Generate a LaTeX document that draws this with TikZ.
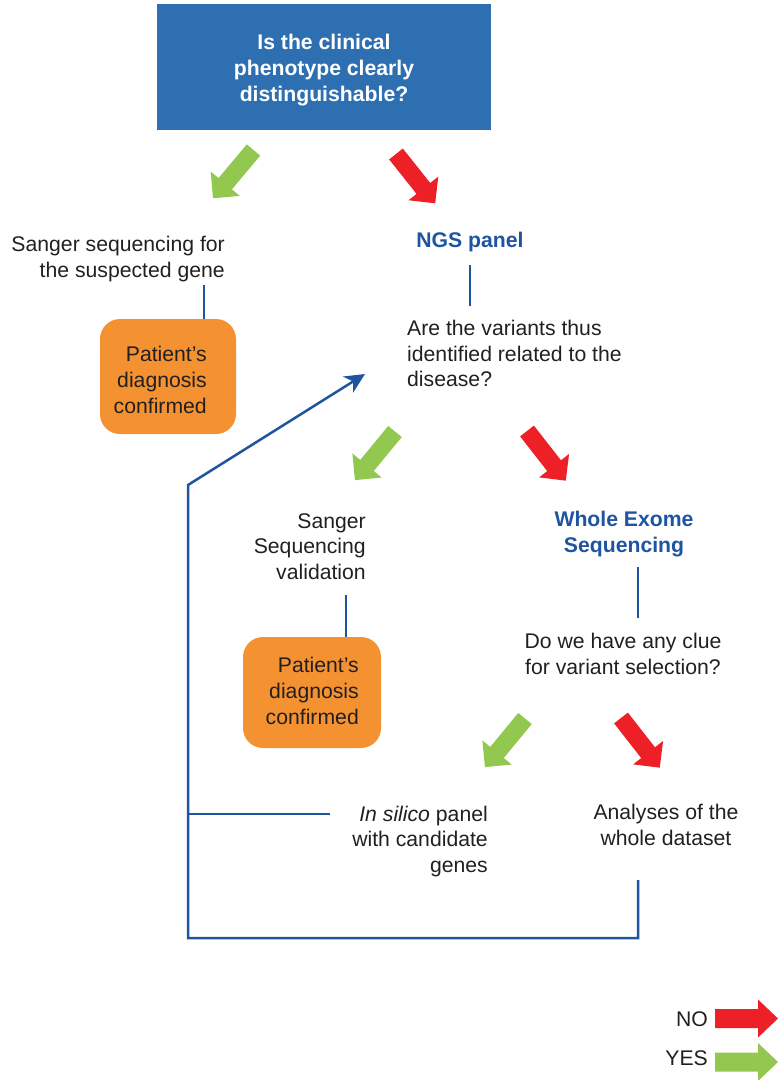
\documentclass[tikz,border=0pt]{standalone}
\usepackage{fontspec}
\setmainfont{Liberation Sans}
\usetikzlibrary{arrows.meta}
\definecolor{titleblue}{RGB}{45,111,176}
\definecolor{yesgreen}{RGB}{146,200,80}
\definecolor{nored}{RGB}{237,32,39}
\definecolor{boxorange}{RGB}{244,146,50}
\definecolor{lineblue}{RGB}{30,84,160}
\definecolor{darktext}{RGB}{35,31,32}
\begin{document}
\begin{tikzpicture}[x=1pt,y=-1pt,
  txt/.style={inner sep=0pt, text=darktext, font=\fontsize{21.2}{25.8}\selectfont},
  bluetxt/.style={inner sep=0pt, text=lineblue, font=\fontsize{21.2}{25.8}\selectfont\bfseries},
  confbox/.style={fill=boxorange, rounded corners=20pt, inner sep=0pt},
  conn/.style={draw=lineblue, line width=2.5pt, line join=miter},
  diagarrow/.pic={\fill (0,-8.75) -- (44,-8.75) -- (44,-19) -- (63,0) -- (44,19) -- (44,8.75) -- (0,8.75) -- cycle;},
  legarrow/.pic={\fill (0,-9.5) -- (43,-9.5) -- (43,-19) -- (63,0) -- (43,19) -- (43,9.5) -- (0,9.5) -- cycle;}
]
\useasboundingbox (0,0) rectangle (784,1080);

% title question
\node[fill=titleblue, minimum width=334pt, minimum height=126pt, inner sep=0pt] (q1) at (324,67) {};
\node[inner sep=0pt, text=white, align=center, font=\fontsize{21.2}{26}\selectfont\bfseries]
      (q1txt) at (324,70.5) {Is the clinical\\phenotype clearly\\distinguishable?};

% first level arrows
\pic[fill=yesgreen, rotate=230] at (253.5,150) {diagarrow};
\pic[fill=nored, rotate=308.5] at (396,154) {diagarrow};

% left branch
\node[txt, align=right, anchor=east] (sanger1) at (225,259) {Sanger sequencing for\\the suspected gene};
\node[confbox, minimum width=136pt, minimum height=115pt] (conf1) at (168,376.5) {};
\node[txt, align=right, anchor=east] (conf1txt) at (207,380) {Patient’s\\diagnosis\\confirmed};
\coordinate (l1top) at (204,285);
\draw[conn] (l1top) -- (l1top |- conf1.north);

% NGS panel
\node[bluetxt] (ngs) at (470,242.5) {NGS panel};
\node[txt, align=left, anchor=west] (q2) at (407,353.5) {Are the variants thus\\identified related to the\\disease?};
\coordinate (l2top) at (470,265);
\coordinate (l2bot) at (470,306);
\draw[conn] (l2top) -- (l2bot);

% second level arrows
\pic[fill=yesgreen, rotate=230.5] at (395,431.5) {diagarrow};
\pic[fill=nored, rotate=308] at (527,431) {diagarrow};

% middle branch
\node[txt, align=right, anchor=east] (sanger2) at (366,546.5) {Sanger\\Sequencing\\validation};
\node[confbox, minimum width=138pt, minimum height=111pt] (conf2) at (312,692.5) {};
\node[txt, align=right, anchor=east] (conf2txt) at (359,691) {Patient’s\\diagnosis\\confirmed};
\coordinate (l3top) at (346,595);
\draw[conn] (l3top) -- (l3top |- conf2.north);

% WES
\node[bluetxt, align=center] (wes) at (624,534) {Whole Exome\\Sequencing};
\node[txt, align=center] (q3) at (623,654) {Do we have any clue\\for variant selection?};
\coordinate (l4top) at (638,567);
\coordinate (l4bot) at (638,618);
\draw[conn] (l4top) -- (l4bot);

% third level arrows
\pic[fill=yesgreen, rotate=230.5] at (525,718.5) {diagarrow};
\pic[fill=nored, rotate=308] at (621,718) {diagarrow};

\node[txt, align=right, anchor=east] (insilico) at (488,841.5) {\textit{In silico} panel\\with candidate\\genes};
\node[txt, align=center] (whole) at (666,825) {Analyses of the\\whole dataset};

% feedback loop
\coordinate (fbstart) at (638,880);
\coordinate (fbcorner) at (188,938);
\coordinate (fbknee) at (188,485);
\coordinate (fbtip) at (365,374);
\coordinate (isend) at (330,814);
\draw[conn, -{Stealth[length=20pt, width=19pt, inset=6pt]}]
  (fbstart) |- (fbcorner) -- (fbknee) -- (fbtip);
\draw[conn] (isend) -- (isend -| fbknee);

% legend
\node[txt, anchor=east] (nolab) at (708,1019) {NO};
\node[txt, anchor=east] (yeslab) at (708,1058) {YES};
\pic[fill=nored] at (715,1018.5) {legarrow};
\pic[fill=yesgreen] at (715,1062) {legarrow};
\end{tikzpicture}
\end{document}
